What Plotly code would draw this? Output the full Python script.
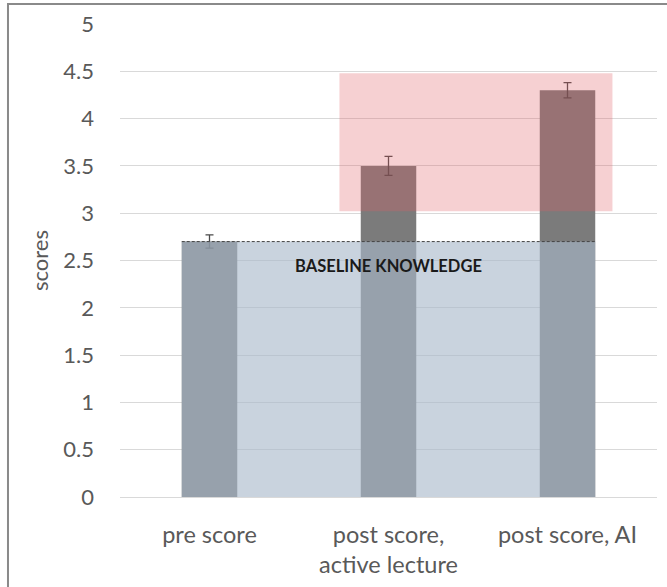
import plotly.graph_objects as go

categories = ["pre score", "post score,<br>active lecture", "post score, AI"]
scores = [2.7, 3.5, 4.3]
errors = [0.07, 0.1, 0.08]
baseline = 2.7
highlight_low = 3.02
highlight_high = 4.48
baseline_label = "BASELINE KNOWLEDGE"
y_ticks = [0, 0.5, 1, 1.5, 2, 2.5, 3, 3.5, 4, 4.5, 5]
y_tick_text = ["0", "0.5", "1", "1.5", "2", "2.5", "3", "3.5", "4", "4.5", "5"]

bar_width = 0.31
FONT = "Lato"
TXT = "#595959"

fig = go.Figure()
fig.add_trace(go.Bar(
    x=list(range(len(categories))),
    y=scores,
    width=bar_width,
    marker=dict(color="#7b7b7b", line=dict(width=0)),
    error_y=dict(type="data", array=errors, visible=True,
                 color="#4a4a4a", thickness=1.3, width=4),
    showlegend=False,
    hoverinfo="skip",
))

x_left = 0 - bar_width / 2
x_right = (len(categories) - 1) + bar_width / 2

shapes = [
    dict(type="rect", xref="x", yref="y", x0=x_left, x1=x_right, y0=0, y1=baseline,
         fillcolor="rgba(168,184,202,0.62)", line=dict(width=0), layer="above"),
    dict(type="line", xref="x", yref="y", x0=x_left, x1=x_right, y0=baseline, y1=baseline,
         line=dict(color="#444444", width=1, dash="3px,2px"), layer="above"),
    dict(type="rect", xref="x", yref="y", x0=0.726, x1=2.251, y0=highlight_low, y1=highlight_high,
         fillcolor="rgba(224,93,100,0.29)", line=dict(width=0), layer="above"),
    dict(type="rect", xref="paper", yref="paper", x0=-0.2086, x1=1.2, y0=-0.3, y1=1.0423,
         line=dict(color="#8a8a8a", width=2), fillcolor="rgba(0,0,0,0)", layer="above"),
]

fig.update_layout(
    width=667, height=587,
    margin=dict(l=120, r=10, t=24, b=90),
    paper_bgcolor="white",
    plot_bgcolor="white",
    shapes=shapes,
    font=dict(family=FONT, color=TXT),
    annotations=[dict(
        x=1, y=2.44, xref="x", yref="y", text="<b>" + baseline_label + "</b>",
        showarrow=False, font=dict(family=FONT, size=16.5, color="#1a1a1a"),
    )],
)
fig.update_xaxes(
    range=[-0.5, 2.5],
    tickmode="array", tickvals=list(range(len(categories))), ticktext=categories,
    tickfont=dict(size=23.5, color=TXT, family=FONT),
    showgrid=False, zeroline=False, showline=False, ticks="",
    ticklabelstandoff=21,
    fixedrange=True,
)
fig.update_yaxes(
    range=[0, 5],
    tickmode="array", tickvals=y_ticks, ticktext=y_tick_text,
    tickfont=dict(size=22, color=TXT, family=FONT),
    showgrid=True, gridcolor="#d9d9d9", gridwidth=1,
    zeroline=True, zerolinecolor="#d9d9d9", zerolinewidth=1,
    showline=False, ticks="", ticklabelstandoff=25,
    title=dict(text="scores", font=dict(size=22, color=TXT, family=FONT), standoff=8),
    automargin=False,
    fixedrange=True,
)

fig.write_html("out.html", config={"displayModeBar": False},
               post_script="document.body.style.margin='0';")
